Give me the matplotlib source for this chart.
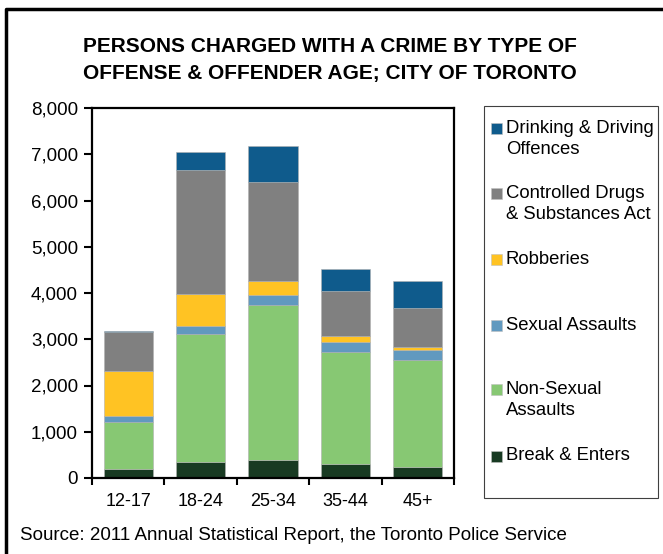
import matplotlib
matplotlib.use("Agg")
import matplotlib.pyplot as plt
from matplotlib.patches import Rectangle
from matplotlib.lines import Line2D
import numpy as np

ages = ['12-17', '18-24', '25-34', '35-44', '45+']

# persons charged, by offence type (bottom to top of each stack)
break_enters = [200, 350, 390, 300, 240]
non_sexual = [1005, 2755, 3340, 2430, 2320]
sexual = [130, 175, 220, 217, 217]
robberies = [976, 695, 300, 130, 63]
drugs = [846, 2690, 2150, 975, 825]
drinking = [20, 390, 780, 475, 585]

series = [
    ('Break & Enters', break_enters, '#183a22'),
    ('Non-Sexual\nAssaults', non_sexual, '#87c873'),
    ('Sexual Assaults', sexual, '#6199bf'),
    ('Robberies', robberies, '#ffc323'),
    ('Controlled Drugs\n& Substances Act', drugs, '#808080'),
    ('Drinking & Driving\nOffences', drinking, '#0f5b8c'),
]

plt.rcParams['font.family'] = ['Liberation Sans', 'DejaVu Sans']

fig = plt.figure(figsize=(6.63, 5.54), dpi=100)
W, H = 663, 554
ax = fig.add_axes([92 / W, 1 - 478 / H, 362 / W, 370 / H])

x = np.arange(len(ages))
bottom = np.zeros(len(ages))
for name, vals, col in series:
    ax.bar(x, vals, width=0.68, bottom=bottom, color=col,
           edgecolor='#b0b0b0', linewidth=0.4)
    bottom += np.array(vals)

ax.set_xlim(-0.5, len(ages) - 0.5)
ax.set_ylim(0, 8000)
ax.set_yticks(range(0, 8001, 1000))
ax.set_yticklabels(['{:,}'.format(v) for v in range(0, 8001, 1000)], fontsize=13.5)
ax.set_xticks(x)
ax.set_xticklabels(ages, fontsize=13)
ax.set_xticks(np.arange(-0.5, len(ages)), minor=True)
ax.tick_params(axis='x', which='major', length=0, pad=11)
ax.tick_params(axis='x', which='minor', length=5, width=1.5, direction='out')
ax.tick_params(axis='y', length=6, width=1.5, direction='out', pad=4)
for s in ax.spines.values():
    s.set_linewidth(1.6)

# title
title_font = dict(ha='center', va='center', fontsize=15, fontweight='bold')
fig.text(330 / W, 1 - 46 / H, 'PERSONS CHARGED WITH A CRIME BY TYPE OF', **title_font)
fig.text(330 / W, 1 - 74 / H, 'OFFENSE & OFFENDER AGE; CITY OF TORONTO', **title_font)

# source note
fig.text(20 / W, 1 - 535 / H, 'Source: 2011 Annual Statistical Report, the Toronto Police Service',
         ha='left', va='center', fontsize=13.5)

# legend box
fig.patches.append(Rectangle((484 / W, 1 - 498 / H), 174 / W, 392 / H,
                             transform=fig.transFigure, facecolor='white',
                             edgecolor='#404040', linewidth=0.8))
legend_y = [139, 204, 259, 325, 400, 456]
for (name, vals, col), yy in zip(series[::-1], legend_y):
    first_line = 1 - (yy - (11 if '\n' in name else 0)) / H
    fig.patches.append(Rectangle((491 / W, first_line - 6 / H), 11 / W, 11 / H,
                                 transform=fig.transFigure, facecolor=col,
                                 edgecolor='#c0c0c0', linewidth=0.4))
    fig.text(506 / W, 1 - yy / H, name, ha='left', va='center', fontsize=13.3,
             linespacing=1.35)

# outer frame (left and top)
fig.lines.append(Line2D([6 / W, 6 / W, 1.0], [0.0, 1 - 8.5 / H, 1 - 8.5 / H],
                        transform=fig.transFigure, color='black', linewidth=2.5))

fig.savefig('out.png', dpi=100)
